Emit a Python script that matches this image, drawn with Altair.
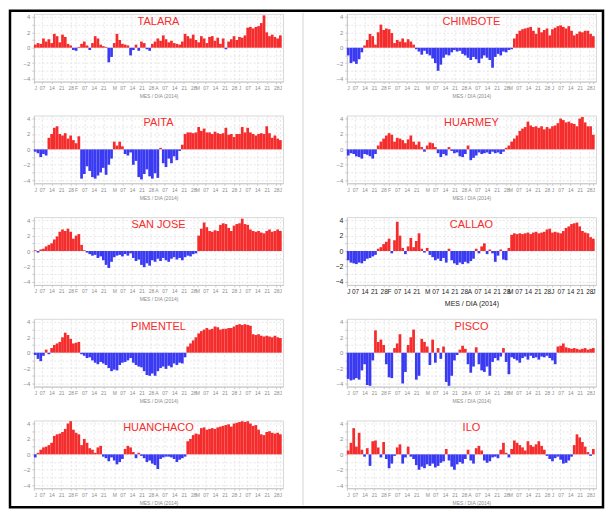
import altair as alt
import pandas as pd

START = "2014-01-01"
STEP_DAYS = 2
DOMAIN_END = "2014-07-03"

TALARA = [0.4,0.6,0.5,1.2,0.8,1.1,0.6, 1.8,1.5,0.7,1.7,1.4,0.5, 0.3,-0.3, -0.4,0.1, 0.5,0.8, 0.3,-0.3,
          0.6,1.5,1.2,0.4, 0.2,0.1, -1.9,-1.2, 0.6,1.8,1.0, 0.5,0.4,0.3, -1.0,-0.3,0.4, -0.4,0.8, 0.6,-0.2,
          -0.4,0.5, 0.8,1.2,0.9,1.6,1.1,0.7, 0.9,0.6,0.5,0.4,0.8, 1.8,1.5,1.2,1.7,1.0,0.7, 1.5,1.2,0.6,1.4,
          1.5,0.9,1.3,0.5,1.2, -0.2,0.8,1.1,1.5, 1.0,1.4,1.3,1.6,2.6, 2.7,2.5,2.7,2.8, 3.2,4.2, 2.0,1.5,1.7,1.4,1.2,1.6]
CHIMBOTE = [-1.0,-2.0,-1.8,-2.1,-1.5,-0.6, 0.3, 1.0,1.8,1.5, 0.4,2.0,3.0,2.3,2.5,2.4,1.9, 0.6,1.0,0.8,1.2,0.7,1.1,0.8,0.4,
            -0.2,-0.5,-0.9,-0.4,-0.8,-1.0,-1.4,-2.0,-3.0,-2.2,-1.3,-0.9,-1.0,-0.6,-0.3,-0.5,-0.4,-0.8,-1.0,-1.3,
            -1.6,-1.2,-1.5,-2.0,-1.4,-1.0,-1.3,-1.6,-2.6,-1.2,-0.8,-1.0,-0.5,-0.6,-0.3,-0.2,
            1.2,1.8,2.2,2.4,2.5,2.6,2.7,2.2,1.8,2.6,2.0,2.3,2.5,1.6,2.4,2.6,2.8,2.9,2.7,2.5,2.8,2.2,1.6,1.8,
            2.1,2.0,2.2,2.2,1.8,1.5]
PAITA = [-0.3,-0.5,-1.0,-0.6,-0.8, 1.5,2.0,2.8,3.0,2.0,1.8,2.1,1.4,1.8,1.2,0.8,1.7,
         -3.8,-3.2,-2.2,-2.8,-3.6,-3.8,-3.4,-3.0,-2.4,-3.3,-2.0,-1.2, 1.0,0.5,1.0,0.4, -0.6,-0.8,-0.4,
         -2.0,-1.5,-3.6,-3.9,-3.2,-2.6,-3.5,-3.8,-3.1,-3.7, 0.2,-1.8,-2.3,-1.2,-1.8,-0.9,-1.4, -0.2,
         0.6,2.0,2.2,2.2,2.1,2.2,2.9,2.4,2.7,2.2,2.2,2.0,2.3,2.1,2.0,2.1,2.8,1.9,2.0,1.6,2.0,2.0,2.9,2.2,
         2.8,2.2,2.0,1.8,2.0,2.1,2.0,3.0,2.1,1.5,1.8,1.4,1.2]
HUARMEY = [-0.8,-0.5,-0.6,-0.9,-1.0,-1.2,-0.6,-0.7,-0.9,-1.2,-0.6,
           0.5,1.0,1.4,1.8,2.1,1.9,1.0,1.5,1.4,1.2,0.8,1.3,1.8,1.0,0.6,1.0,0.3,-0.3,0.5,0.9,0.8,
           0.3,-0.5,-1.0,-0.6,-0.8,0.3,
           -0.2,-0.5,-0.4,-0.9,-1.0,-0.6,0.5,-1.4,-1.1,-0.8,-0.4,-0.6,-0.5,-0.4,-0.6,-0.3,-0.5,-0.4,-0.6,-0.3,
           0.2,0.5,1.0,1.4,1.8,2.4,2.7,2.9,3.6,3.1,2.9,3.0,2.8,3.0,2.6,2.9,2.7,3.0,3.1,3.4,4.0,3.8,3.5,3.6,
           3.4,3.3,3.0,4.0,4.2,3.5,3.0,3.0,1.9]
SAN_JOSE = [0.1,-0.2,0.2,0.3, 0.6,0.8,1.0, 1.5,1.9,2.5,2.8,2.6,2.9,2.5,1.6,2.0,2.2,0.8, 0.1,-0.2,
            -0.4,-0.6,-0.5,-0.9,-0.7,-1.2,-1.8,-2.2,-1.4,-0.8,-0.6,-0.5,-0.7,-0.4,-0.6,-0.3,-0.9,-1.3,-1.1,-1.8,
            -2.1,-1.6,-1.9,-1.2,-1.4,-1.0,-1.3,-0.9,-1.2,-1.4,-1.0,-0.8,-1.1,-0.9,-1.2,-0.8,-0.6,-0.7,-0.4,-0.3,
            2.0,2.9,3.7,3.1,2.6,2.5,2.7,2.6,3.4,3.6,3.5,3.0,2.6,3.3,3.5,3.6,4.2,3.5,3.4,2.8,
            2.6,2.5,2.6,2.4,2.3,2.6,2.8,2.5,2.6,2.8,2.6]
CALLAO = [-1.2,-1.5,-1.6,-1.7,-1.5,-1.6,-1.3,-1.0,-0.9,-0.7,-0.5,
          0.3,0.5,0.9,1.2,1.6,-0.3,1.4,3.8,2.0,0.4,-0.4,0.6,1.7,0.5,1.3,2.3,0.3,-0.2,0.4,
          -0.5,-0.8,-1.2,-1.0,-1.3,-0.9,-1.5,0.3,-1.2,-1.6,-1.8,-1.5,-1.7,-1.4,-1.6,-1.3,-1.0,
          0.3,-0.3,0.6,1.0,-0.4,0.2, -0.3,-1.4,-0.6,0.2,-1.1,-1.2,
          0.4,2.1,2.3,2.2,2.3,2.2,2.3,2.4,2.2,2.4,2.5,2.3,2.4,2.5,2.8,2.9,2.4,2.5,2.4,2.3,
          2.6,3.0,3.2,3.5,3.6,3.7,3.2,2.6,2.4,2.3,1.8,1.6]
PIMENTEL = [-0.3,-0.8,-1.1,-0.4, 0.4,-0.2,0.6,1.0,1.2,1.4,2.0,2.6,2.3,1.8,1.2,1.3,1.4,
            -0.2,-0.4,-0.7,-0.6,-1.0,-1.3,-1.5,-1.2,-1.4,-1.6,-2.0,-2.4,-2.2,-2.3,-1.6,-1.3,-1.2,-1.0,-0.7,-1.3,
            -1.6,-1.8,-1.9,-2.4,-2.9,-3.0,-2.7,-3.0,-2.4,-2.0,-1.8,-2.1,-1.7,-1.9,-1.4,-1.6,-1.3,-1.4,-0.6,
            0.8,1.2,1.6,2.0,2.5,2.8,3.0,3.2,3.0,3.1,3.4,3.3,3.0,3.1,3.1,3.2,3.2,3.4,3.6,3.7,3.6,3.7,3.6,3.5,
            2.4,2.3,2.4,2.2,2.1,2.2,2.1,2.0,2.2,2.0,1.9]
PISCO = [-3.4,-3.6,-3.5,-3.3,-3.5,-2.3,-1.5,-4.2,-4.3,-1.0, 2.9,1.4,1.7,1.0, -1.5,-3.2,-3.3, 0.6,1.2,2.4,
         -4.0,-2.5, 1.0,2.0,3.0, -3.5,-3.0, 1.8,1.4,0.8, -1.6,1.7, -1.3,0.6,-0.8,0.8, -3.8,-4.3,-3.0,-1.0,
         -0.3,0.4,0.9,0.5, -1.5,-2.6,-1.8,0.7, -1.5,-2.3,-2.5,-1.8,-3.0,-1.2, -0.7,-1.0,-0.5,0.6, -1.2,-2.8,
         -0.6,-0.8,-1.0,-1.3,-0.7,-0.5,-0.9,-0.4,-0.7,-0.6,-0.9,-0.5,-0.6,-0.4,-0.7,-1.0,-1.5,
         0.8,0.9,1.2,0.7,0.6,0.5,0.6,0.5,0.4,0.5,0.6,0.4,0.5,0.6]
HUANCHACO = [-0.4,0.2, 0.6,0.9,1.0,1.2,1.5,2.4,2.6,2.7,2.9,3.3,4.0,4.3,3.2,2.8,2.6,1.2,2.0,1.5,0.8,0.6,0.2,0.9,1.1,
             -0.3,-0.5,-0.9,-0.4,-0.8,-1.3,-1.0,-0.6, 0.7,1.1,0.9,0.3,-0.5,
             0.2,-0.2,-0.5,-1.0,-0.8,-1.2,-1.4,-1.9,-0.6,-0.4,-0.3,-0.3,-0.4,-0.6,-1.0,-0.7,-0.5,-0.3,
             1.7,2.0,2.5,2.7,2.6,3.4,3.5,3.2,3.3,3.4,3.3,3.5,3.6,3.7,3.8,3.9,3.6,4.0,4.1,4.2,
             4.3,4.2,4.3,4.0,3.7,3.8,3.2,2.6,2.5,2.9,3.0,2.8,2.7,2.8,2.6]
ILO = [0.5,1.5,3.4,1.0,2.8,0.6, -0.3,0.8,-1.5,1.7,1.8,0.9,-0.4,1.6, -0.6,-1.8,-1.2, -0.2,0.9,1.3, -1.2,-0.4,1.0,
       -0.3,-0.6,-1.4,-2.0,-1.6,-1.8,-1.3,-1.5,-1.2,-1.7,-1.5,-1.1,-0.9, 0.7, -0.8,-1.6,-2.0,-1.3,-1.0,-1.2,-0.6,
       0.6,-0.8,-1.2,0.8,1.1,0.5, -0.8,-1.1,-0.9,-0.4, -0.3,-0.5,0.6,1.5, 0.2,-0.4, 0.7,1.8,1.5,1.2, 0.9,0.5,
       1.7,1.2, 1.0,1.3,1.7,1.1,0.6, -0.2,-0.6,-0.9,-0.5,-0.3,-0.7,-1.2,-1.1,-0.8,-0.3, 1.2,2.6,2.2,1.6,1.0,
       0.3,-0.2,0.7]

LEFT = [("TALARA", TALARA), ("PAITA", PAITA), ("SAN JOSE", SAN_JOSE), ("PIMENTEL", PIMENTEL), ("HUANCHACO", HUANCHACO)]
RIGHT = [("CHIMBOTE", CHIMBOTE), ("HUARMEY", HUARMEY), ("CALLAO", CALLAO), ("PISCO", PISCO), ("ILO", ILO)]

TICK_DATES = ["2014-01-01", "2014-01-07", "2014-01-14", "2014-01-21", "2014-01-28",
              "2014-02-01", "2014-02-07", "2014-02-14", "2014-02-21",
              "2014-03-01", "2014-03-07", "2014-03-14", "2014-03-21", "2014-03-28",
              "2014-04-01", "2014-04-07", "2014-04-14", "2014-04-21", "2014-04-28",
              "2014-05-01", "2014-05-07", "2014-05-14", "2014-05-21", "2014-05-28",
              "2014-06-01", "2014-06-07", "2014-06-14", "2014-06-21", "2014-06-28",
              "2014-07-01"]
TICK_LABELS = ["J", "07", "14", "21", "28",
               "F", "07", "14", "21",
               "M", "07", "14", "21", "28",
               "A", "07", "14", "21", "28",
               "M", "07", "14", "21", "28",
               "J", "07", "14", "21", "28",
               "J"]
Y_TICKS = [-4, -3, -2, -1, 0, 1, 2, 3, 4]
X_TITLE = "MES / DIA (2014)"

RED = "#f42c2c"
BLUE = "#3a3af2"


def ms(s):
    return int(pd.Timestamp(s, tz="UTC").value // 10**6)


TICK_MS = [ms(d) for d in TICK_DATES]
LABEL_EXPR = ("[" + ",".join("'%s'" % t for t in TICK_LABELS) + "][indexof(["
              + ",".join("'%s'" % d for d in TICK_DATES) + "], utcFormat(datum.value, '%Y-%m-%d'))]")


def make_df(vals):
    start = pd.Timestamp(START)
    rows = []
    for i, v in enumerate(vals):
        d = start + pd.Timedelta(days=STEP_DAYS * i)
        d2 = d + pd.Timedelta(days=STEP_DAYS)
        rows.append({"d": d.strftime("%Y-%m-%d"), "d2": d2.strftime("%Y-%m-%d"), "v": v})
    return pd.DataFrame(rows)


def panel(name, vals, big=False, frame=False):
    df = make_df(vals)
    lab_size = 6.5 if big else 5
    lab_col = "#222" if big else "#8c8c8c"
    xaxis = alt.Axis(values=TICK_MS, labelExpr=LABEL_EXPR, labelOverlap=False, labelAngle=0,
                     labelFontSize=lab_size, labelColor=lab_col, labelPadding=2,
                     title=X_TITLE, titleFontSize=(7 if big else 5), titleFontWeight="normal",
                     titleColor=lab_col, titlePadding=(4 if big else 3),
                     grid=True, tickSize=2)
    yaxis = alt.Axis(values=Y_TICKS, labelExpr="datum.value % 2 == 0 ? datum.label : ''",
                     labelFontSize=(7 if big else 6), labelColor=lab_col, title=None,
                     grid=True, tickSize=2, labelPadding=2)
    bars = alt.Chart(df).mark_bar().encode(
        x=alt.X("d:T", scale=alt.Scale(type="utc", domain=[ms(START), ms(DOMAIN_END)]), axis=xaxis),
        x2="d2:T",
        y=alt.Y("v:Q", scale=alt.Scale(domain=[-4.4, 4.4], nice=False, zero=True), axis=yaxis),
        y2=alt.datum(0),
        color=alt.condition(alt.datum.v > 0, alt.value(RED), alt.value(BLUE)),
    )
    title = alt.Chart(alt.Data(values=[{"t": name}])).mark_text(
        color=RED, fontSize=11, baseline="top", align="center", font="Liberation Sans"
    ).encode(x=alt.value(125), y=alt.value(2), text="t:N")
    layers = [bars, title]
    if frame:
        border = alt.Chart(alt.Data(values=[{"a": 1}])).mark_rect(
            fillOpacity=0, stroke="black", strokeWidth=2.5
        ).encode(x=alt.value(-24), x2=alt.value(571), y=alt.value(-3), y2=alt.value(495))
        divider = alt.Chart(alt.Data(values=[{"a": 1}])).mark_rule(
            color="#d4d4d4", strokeWidth=1
        ).encode(x=alt.value(270), y=alt.value(-1), y2=alt.value(493))
        layers += [divider, border]
    return alt.layer(*layers).properties(width=250, height=68)


panels = []
for r in range(5):
    ln, lv = LEFT[r]
    rn, rv = RIGHT[r]
    panels.append(panel(ln, lv, frame=(r == 0)))
    panels.append(panel(rn, rv, big=(rn == "CALLAO")))

chart = alt.concat(*panels, columns=2, spacing={"row": 34, "column": 64}, bounds="flush").properties(
    padding=0
).configure(font="Liberation Sans").configure_view(stroke="#d8d8d8").configure_axis(
    gridColor="#e6e6e6", gridDash=[2, 2], domainColor="#c8c8c8", tickColor="#c8c8c8"
)

chart.save("out.html", embed_options={"renderer": "svg", "actions": False})
